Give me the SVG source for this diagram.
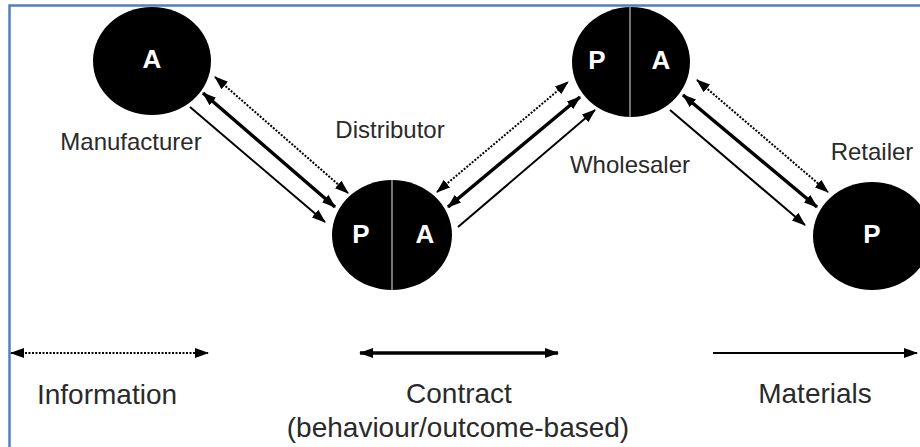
<svg xmlns="http://www.w3.org/2000/svg" width="920" height="447" viewBox="0 0 920 447">
<defs>
<style>
.lbl{font-family:"Liberation Sans",Arial,sans-serif;font-size:24px;fill:#2a2a2a;text-anchor:middle}
.leg{font-family:"Liberation Sans",Arial,sans-serif;font-size:28px;fill:#2a2a2a;text-anchor:middle}
.in{font-family:"Liberation Sans",Arial,sans-serif;font-size:26px;font-weight:bold;fill:#fff;text-anchor:middle}
.node{fill:#000}
.div{stroke:#9a9a9a;stroke-width:1.5}
.info{stroke:#000;stroke-width:2;stroke-dasharray:2 1.5;fill:none}
.contract{stroke:#000;stroke-width:3.5;fill:none}
.mat{stroke:#000;stroke-width:2;fill:none}
</style>
<marker id="ah" viewBox="0 0 14 10" refX="13" refY="5" markerWidth="14" markerHeight="10" markerUnits="userSpaceOnUse" orient="auto-start-reverse">
<path d="M0,0 L14,5 L0,10 z" fill="#000"/>
</marker>
</defs>
<rect x="0" y="0" width="920" height="447" fill="#fff"/>
<rect x="9.5" y="5.5" width="1000" height="600" fill="none" stroke="#4f81bd" stroke-width="2.5"/>

<g id="connectors">
<line class="info" x1="215" y1="77" x2="348" y2="193" marker-start="url(#ah)" marker-end="url(#ah)"/>
<line class="contract" x1="203" y1="93" x2="335" y2="207" marker-start="url(#ah)" marker-end="url(#ah)"/>
<line class="mat" x1="190" y1="107" x2="325" y2="222" marker-end="url(#ah)"/>

<line class="info" x1="437" y1="192" x2="568" y2="82" marker-start="url(#ah)" marker-end="url(#ah)"/>
<line class="contract" x1="448" y1="207" x2="580" y2="97" marker-start="url(#ah)" marker-end="url(#ah)"/>
<line class="mat" x1="458" y1="227" x2="595" y2="110" marker-end="url(#ah)"/>

<line class="info" x1="697" y1="80" x2="828" y2="192" marker-start="url(#ah)" marker-end="url(#ah)"/>
<line class="contract" x1="683" y1="95" x2="817" y2="207" marker-start="url(#ah)" marker-end="url(#ah)"/>
<line class="mat" x1="670" y1="110" x2="805" y2="225" marker-end="url(#ah)"/>
</g>

<g id="manufacturer">
<ellipse class="node" cx="152" cy="61" rx="59" ry="54"/>
<text class="in" x="152" y="68">A</text>
<text class="lbl" x="131" y="150">Manufacturer</text>
</g>

<g id="distributor">
<ellipse class="node" cx="392" cy="235" rx="60" ry="55"/>
<line class="div" x1="392" y1="180" x2="392" y2="290"/>
<text class="in" x="361" y="243">P</text>
<text class="in" x="425" y="243">A</text>
<text class="lbl" x="390" y="138">Distributor</text>
</g>

<g id="wholesaler">
<ellipse class="node" cx="631" cy="62" rx="59" ry="55"/>
<line class="div" x1="630" y1="7" x2="630" y2="117"/>
<text class="in" x="597" y="69">P</text>
<text class="in" x="661" y="69">A</text>
<text class="lbl" x="630" y="173">Wholesaler</text>
</g>

<g id="retailer">
<ellipse class="node" cx="872" cy="236" rx="59" ry="54"/>
<text class="in" x="872" y="243">P</text>
<text class="lbl" x="872" y="160">Retailer</text>
</g>

<g id="legend">
<line class="info" x1="11" y1="353" x2="208" y2="353" marker-start="url(#ah)" marker-end="url(#ah)"/>
<line class="contract" x1="360" y1="353" x2="558" y2="353" marker-start="url(#ah)" marker-end="url(#ah)"/>
<line class="mat" x1="713" y1="353" x2="917" y2="353" marker-end="url(#ah)"/>
<text class="leg" x="107" y="404">Information</text>
<text class="leg" x="459" y="403">Contract</text>
<text class="leg" x="458" y="437">(behaviour/outcome-based)</text>
<text class="leg" x="815" y="403">Materials</text>
</g>
</svg>
